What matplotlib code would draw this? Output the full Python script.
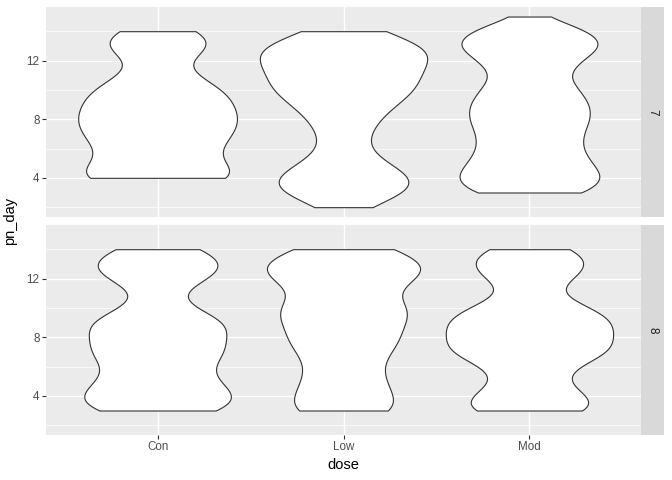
import numpy as np
import matplotlib
matplotlib.use("Agg")
import matplotlib.pyplot as plt

plt.rcParams['font.family'] = ['Liberation Sans', 'DejaVu Sans']

days = [2, 3, 4, 5, 6, 7, 8, 9, 10, 11, 12, 13, 14, 15]
doses = ['Con', 'Low', 'Mod']
ages = ['7', '8']

con_7 = [0, 0, 26, 8, 12, 15, 17, 14, 15, 7, 0, 17, 8, 0]
low_7 = [1, 32, 31, 13, 5, 9, 13, 15, 33, 23, 30, 43, 7, 0]
mod_7 = [0, 199, 248, 202, 168, 172, 199, 198, 161, 117, 165, 247, 206, 44]
con_8 = [0, 62, 69, 45, 37, 61, 47, 68, 24, 7, 44, 61, 38, 0]
low_8 = [0, 32, 15, 19, 11, 18, 27, 15, 42, 0, 37, 38, 21, 0]
mod_8 = [0, 35, 27, 13, 18, 41, 35, 40, 30, 6, 20, 29, 22, 0]

counts = {'7': [con_7, low_7, mod_7], '8': [con_8, low_8, mod_8]}


def nrd0(x):
    # R's default bandwidth
    sd = np.std(x, ddof=1)
    iqr = np.percentile(x, 75) - np.percentile(x, 25)
    lo = min(sd, iqr / 1.34)
    return 0.9 * lo * len(x) ** -0.2


def violin_density(c):
    x = np.repeat(days, c).astype(float)
    h = nrd0(x)
    y = np.linspace(x.min(), x.max(), 512)
    dens = np.exp(-0.5 * ((y[:, None] - x[None, :]) / h) ** 2).sum(axis=1)
    dens = dens / (len(x) * h * np.sqrt(2 * np.pi))
    return y, dens


# y range shared by both facets (ggplot 5% expansion)
all_x = np.concatenate([np.repeat(days, c) for a in ages for c in counts[a]])
span = all_x.max() - all_x.min()
ylim = (all_x.min() - 0.05 * span, all_x.max() + 0.05 * span)

fig = plt.figure(figsize=(6.72, 4.8), dpi=100)
W, H = 672.0, 480.0
left, right = 46 / W, 641 / W
panels = [(7, 216.7), (225, 434.7)]

for i, age in enumerate(ages):
    top, bot = panels[i]
    ax = fig.add_axes([left, 1 - bot / H, right - left, (bot - top) / H])
    ax.set_facecolor('#EBEBEB')
    for s in ax.spines.values():
        s.set_visible(False)

    curves = [violin_density(c) for c in counts[age]]
    dmax = max(d.max() for _, d in curves)
    for j, (y, d) in enumerate(curves):
        hw = 0.45 * d / dmax
        ax.fill_betweenx(y, j + 1 - hw, j + 1 + hw, facecolor='white',
                         edgecolor='#333333', linewidth=0.8, zorder=3)

    ax.set_xlim(0.4, 3.6)
    ax.set_ylim(*ylim)
    ax.set_yticks([4, 8, 12])
    ax.set_yticks([2, 6, 10, 14], minor=True)
    ax.set_xticks([1, 2, 3])
    ax.grid(which='major', color='white', linewidth=1.0, zorder=0)
    ax.grid(which='minor', axis='y', color='white', linewidth=0.5, zorder=0)
    ax.set_axisbelow(True)
    ax.tick_params(which='major', length=2.6, width=0.8, color='#333333',
                   labelcolor='#4D4D4D', labelsize=8.4, pad=2)
    ax.tick_params(which='minor', length=0)
    if i == 0:
        ax.tick_params(axis='x', which='major', length=0, labelbottom=False)
    else:
        ax.set_xticklabels(doses)

    # facet strip on the right
    sax = fig.add_axes([right, 1 - bot / H, 23 / W, (bot - top) / H])
    sax.set_facecolor('#D9D9D9')
    sax.set_xticks([])
    sax.set_yticks([])
    for s in sax.spines.values():
        s.set_visible(False)
    sax.text(0.5, 0.5, age, rotation=-90, ha='center', va='center',
             fontsize=8.4, color='#1A1A1A', transform=sax.transAxes)

fig.text(10 / W, 1 - 221 / H, 'pn_day', rotation=90, ha='center', va='center',
         fontsize=10.5, color='black')
fig.text((46 + 641) / 2 / W, 1 - 465 / H, 'dose', ha='center', va='center',
         fontsize=10.5, color='black')

plt.savefig('out.png', dpi=100)
